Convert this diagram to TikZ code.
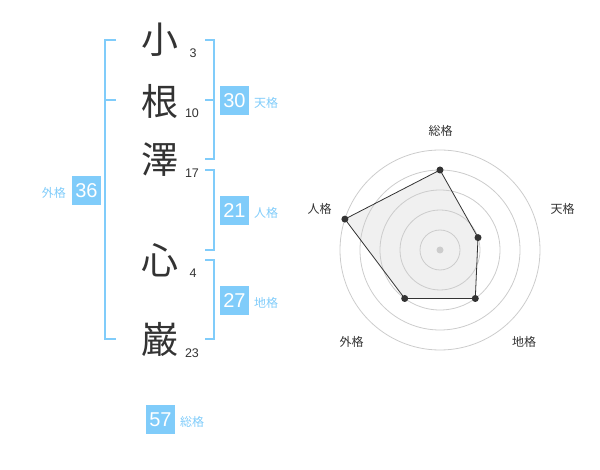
\documentclass[tikz,border=0pt]{standalone}
\usepackage{fontspec}
\setmainfont{Liberation Sans}
\newfontfamily\jp{Noto Sans CJK JP}
\definecolor{kblue}{RGB}{128,204,250}
\definecolor{kdark}{RGB}{51,51,51}
\definecolor{kgrid}{RGB}{204,204,204}
\definecolor{kfill}{RGB}{240,240,240}
\begin{document}
\begin{tikzpicture}[x=1pt,y=-1pt,
  brk/.style={draw=kblue,line width=2pt},
  big/.style={font=\jp\fontsize{37}{37}\selectfont,text=kdark,inner sep=0pt},
  strk/.style={font=\fontsize{12.5}{12.5}\selectfont,text=kdark,inner sep=0pt},
  numbox/.style={fill=kblue,text=white,minimum width=29pt,minimum height=29pt,inner sep=0pt,font=\fontsize{20}{20}\selectfont},
  blab/.style={text=kblue,font=\jp\fontsize{12}{12}\selectfont,inner sep=0pt},
  rlab/.style={text=kdark,font=\jp\fontsize{12}{12}\selectfont,inner sep=0pt},
  ring/.style={draw=kgrid,line width=0.8pt},
  vdot/.style={circle,fill=kdark,inner sep=0pt,minimum size=7pt}
]
\useasboundingbox (0,0) rectangle (600,470);
% big characters
\node[big] (c1) at (160,40) {小};
\node[big] (c2) at (160,101) {根};
\node[big] (c3) at (160,160) {澤};
\node[big] (c4) at (160,260) {心};
\node[big] (c5) at (160,340) {巌};
% stroke counts
\node[strk] (s1) at (193,53) {3};
\node[strk] (s2) at (192,113) {10};
\node[strk] (s3) at (192,173) {17};
\node[strk] (s4) at (193,273) {4};
\node[strk] (s5) at (192,353) {23};
% left bracket
\draw[brk] (116,40) -- (105,40) -- (105,339) -- (116,339);
\draw[brk] (105,100) -- (116,100);
% right brackets
\draw[brk] (205,40) -- (214,40) -- (214,159) -- (205,159);
\draw[brk] (205,100) -- (214,100);
\draw[brk] (205,170) -- (214,170) -- (214,250) -- (205,250);
\draw[brk] (205,260) -- (214,260) -- (214,339) -- (205,339);
% boxes
\node[numbox] (b30) at (234.5,100.5) {30};
\node[blab,anchor=west] (l30) at (254,103) {天格};
\node[numbox] (b21) at (234.5,210.5) {21};
\node[blab,anchor=west] (l21) at (254,213) {人格};
\node[numbox] (b27) at (234.5,300.5) {27};
\node[blab,anchor=west] (l27) at (254,303) {地格};
\node[numbox] (b36) at (86.5,190.5) {36};
\node[blab,anchor=east] (l36) at (66,193) {外格};
\node[numbox] (b57) at (160.5,419.5) {57};
\node[blab,anchor=west] (l57) at (180,422) {総格};
% radar
\coordinate (ctr) at (440,250);
\coordinate (p1) at (440,170);
\coordinate (p2) at (478.0,237.6);
\coordinate (p3) at (475.3,298.5);
\coordinate (p4) at (404.7,298.5);
\coordinate (p5) at (344.9,219.1);
\fill[kfill] (p1) -- (p2) -- (p3) -- (p4) -- (p5) -- cycle;
\foreach \r in {20,40,60,80,100} \draw[ring] (ctr) circle[radius=\r];
\node[circle,fill=kgrid,inner sep=0pt,minimum size=7pt] (cdot) at (ctr) {};
\draw[kdark,line width=0.8pt] (p1) -- (p2) -- (p3) -- (p4) -- (p5) -- cycle;
\foreach \p in {p1,p2,p3,p4,p5} \node[vdot] at (\p) {};
\node[rlab] (r1) at (440.5,130.5) {総格};
\node[rlab] (r2) at (562.5,208.5) {天格};
\node[rlab] (r3) at (319.5,208.5) {人格};
\node[rlab] (r4) at (351.5,341.5) {外格};
\node[rlab] (r5) at (524,341.5) {地格};
\end{tikzpicture}
\end{document}
